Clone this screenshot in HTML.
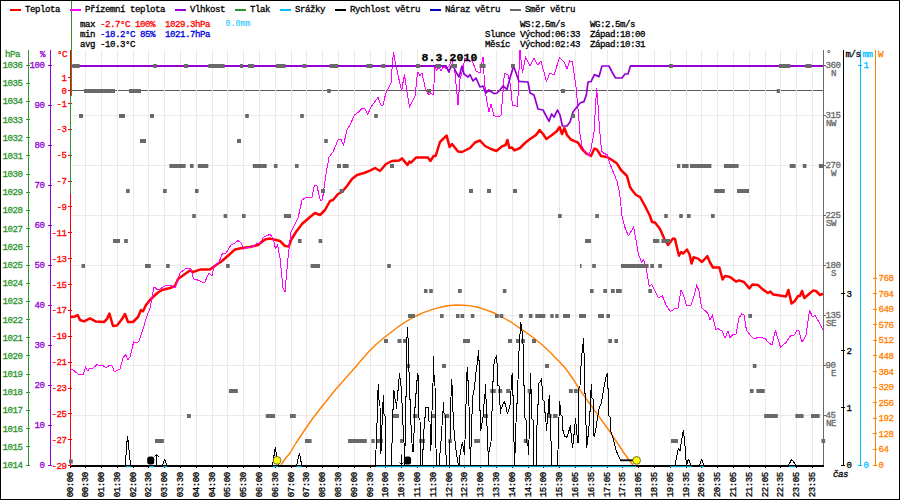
<!DOCTYPE html>
<html><head><meta charset="utf-8"><title>Meteo 8.3.2010</title>
<style>
html,body{margin:0;padding:0;background:#fff;}
svg{display:block;}
text{font-family:"Liberation Mono","DejaVu Sans Mono",monospace;font-size:9.1px;letter-spacing:-0.46px;white-space:pre;stroke-width:0.3px;}
.b{font-weight:bold;}
</style></head><body>
<svg width="900" height="500" viewBox="0 0 900 500">
<rect x="0" y="0" width="900" height="500" fill="#fff"/>
<path d="M71 90.5H823" stroke="#5a5a5a" stroke-width="1"/>
<path d="M85.5 50V465M101.5 50V465M117.5 50V465M133.5 50V465M148.5 50V465M164.5 50V465M180.5 50V465M196.5 50V465M212.5 50V465M227.5 50V465M243.5 50V465M259.5 50V465M275.5 50V465M291.5 50V465M306.5 50V465M322.5 50V465M338.5 50V465M354.5 50V465M370.5 50V465M385.5 50V465M401.5 50V465M417.5 50V465M433.5 50V465M449.5 50V465M464.5 50V465M480.5 50V465M496.5 50V465M512.5 50V465M528.5 50V465M543.5 50V465M559.5 50V465M575.5 50V465M591.5 50V465M607.5 50V465M622.5 50V465M638.5 50V465M654.5 50V465M670.5 50V465M686.5 50V465M701.5 50V465M717.5 50V465M733.5 50V465M749.5 50V465M765.5 50V465M780.5 50V465M796.5 50V465M812.5 50V465" stroke="#ede7e7" stroke-width="1" fill="none"/>
<path d="M71 415.5H823M71 365.5H823M71 315.5H823M71 265.5H823M71 215.5H823M71 165.5H823M71 115.5H823" stroke="#ede7e7" stroke-width="1" fill="none"/>
<path d="M28.5 50V466" stroke="#2c962c"/>
<path d="M50.5 50V466" stroke="#9400d3"/>
<path d="M70.5 50V466" stroke="#ff0000"/>
<path d="M823.5 50V467" stroke="#696969"/>
<path d="M843.5 50V466" stroke="#000000"/>
<path d="M860.5 50V466" stroke="#00bfff"/>
<path d="M875.5 50V466" stroke="#ff7f00"/>
<path d="M71.5 0V96M70.5 96V194" stroke="#2c962c"/>
<path d="M281 465L285 459L290 453L296 443L300 437L306 428L313 418L320 409L328 399L336 389L344 380L352 371L360 361.8L368 352.5L376 344.5L384 337.8L392 331.5L400 325.5L408 320.3L416 316L424 312.3L432 309.6L440 307.3L448 305.8L456 305L463 305.2L469 305.6L477 307L485.3 309.6L493 312.5L501.1 316.5L511.7 322.5L522.3 329.8L532.8 337.3L541.6 344.3L550.4 352.5L559.2 361.5L566 369L572.4 378L580.4 390.6L589.2 403L598 415.2L605 425L609.4 431L614 438L619 445.5L624 453L629 460L633 465" stroke="#ff7f00" stroke-width="1.4" fill="none" stroke-linejoin="round" />
<path d="M70.5 317L75 316.5L77.6 315L80 320L84 321.4L90 318.4L96 321.6L104 322L107 319L109.4 313.6L113 326L117 325.6L122 319L125 314L128 322L133 322L138 317L141 310L143 311.3L146 305L150 300L154 296L158 292.5L162 290L170 288L175 286L178 279L185 274L190 270.4L193 272L200 269.6L210 269.4L216 265L222 261L230 254L235 249.4L242 248L250 247L258 245L265 239.6L270 238.6L276 240L280 241L285 246L289 246.4L291 240L296 232L302 224L310 217L315 213L320 215L325 210L330 201L333 200L338 194L342 192L347 186L352 179L357 175L364 173L370 170.6L375 168L380 171L386 164L392 161L399 160.6L402 158.4L407.4 165L409.4 161.6L411 162.6L416 157.6L428 157.6L430.4 161L433.6 156L435.6 156L440 142L443 139L446.6 135.6L449.6 147L452 144L458 151.6L462 152L470 148L475 142.5L480 140.5L485 146L491 149L496.4 151L502 146.4L505.6 145L507.4 140L509.4 148L512 147.6L514.4 150.4L520 148L525 143L530 139L536 135L539.6 130L543 134L546.4 139L552 135L557 131L559.6 127L562 134L564.4 128L567 135L571 139.6L578 142.6L582 149L587 154L591 156L594.4 148.6L597 149.6L601 156L607 157L612 160L617 163.6L621 170L627 176L630 187L632 190L636 195L640 197L645 206L650 216L652 222L655 222.6L660 229L664 238L668 245L673 238.4L675 239L678 252L679 255.6L681 252L683 253.6L687 249.5L689.6 254.5L691.5 263.6L693.6 257.3L698 258.6L702 262L707.4 256.2L710 262.5L713 267.5L719.4 267.5L722.6 279.5L725 276L730 277L736 281.6L739 280.4L744 282L749.4 288.4L752.4 284.4L758 285L763 289.6L768 293L770.4 291.6L773 294.4L780 295.6L786 296.4L788.4 290L791.6 303.6L794.4 301.6L798 296L800 296L802 291L804.4 298L809 294L813 290.6L816 291L820 295L823 293.6" stroke="#ff0000" stroke-width="2.5" fill="none" stroke-linejoin="round" />
<path d="M70.5 371L72 369L78 374L83 375L85.6 367L87.6 371L90 368L93 368L97 364.6L100 366L103 365.6L106 368L109 365.6L112 365.6L114.4 372L120 369L123 358L125.6 354.4L127.6 360L130 357L133.6 342L137 343L139 341L143 329L147 316L150 308L152 298L154 287L158 290L165 286L170 285L175 288L180 273L186 268.4L191 269L193.6 279L199 280.4L204.4 283L209 273L212 275.6L214 266L219 262L222.4 253.6L225.6 254L231 245L234 243.6L238 240.6L241 243L243.6 249L248 247L251 248L256 244L259.6 243L264 237L270 234.4L273 238L275.6 249L277.6 245L280 258L283 288L285 292L288 258L291 232L298 218L302 200L306 197.5L312 197L314.4 185.6L317 186L320.4 201L322.4 200L326 174L329 157L333 152L338 140L341 139.4L343.5 145L347 130L351 123L354.4 115L358 112.5L362 108.6L365 109L367.6 114.6L371 107L378 97.4L380.6 105L383 105L385.6 94L391 83L392.6 61L393.6 52.5L395 61L398 75L401.6 91L404.4 74.3L407 92L409.5 107.3L415 96L417.6 72L420 75.4L422 73L426 91L429 94.6L431 93L433.4 95L435 65L436.4 71L439 67L441 71L444 66L446 69L449 66L452 59L455 73L458 105L460 79L463 69L465 58L470 62L472 60L476 71L480 73L483 57L484.4 81L486.4 99L489 112L491 104L494 115.5L497 117L501 115.5L502.4 100L504.4 73L508 75L510.4 85L512.4 105L517.6 106.6L519 70L520 50L522.4 73L525.6 57L530 66L534 58L537.6 65L541 61L546.4 81.4L550 73L554 75L559.6 57.4L564 62L567 68.6L569.6 61L572.4 62L576 87L578.2 111L580 134L582 146L585 152L589 155.6L591 149L594 132L595.6 105L596.6 88L598 105L599.6 130L601.6 151L604 153.6L607 154.4L610 164L614 174L617 181L619 190L620.5 200L621.7 215L624.4 226L628.4 236L633.6 227L636 240L638.4 254L641.6 262.4L643.6 259.5L646.4 269.5L649.4 287L651.7 284.4L654.4 289.4L657.8 297L660 297L662.4 296L666 305L670.4 311.6L675 308.4L678 308L681 290L683.6 295.6L686.4 305L691 305L694.4 295L696.6 285L699 291L701.6 307.6L707.6 313L710 320L712.4 315L716 330L717.6 328.4L722 331L725 338L728 331L730 337.4L733 334.6L736 334.4L739 318L741.6 314L744 315L746.4 330L750 335L754 339L759 337L765 338.4L769 343L772 345L775.4 330.4L778 339L780.6 347.4L786 342.4L791 335L793.6 336L797 330.6L799 331L802 342.4L806 335L809.6 310L812.4 317L815 315L820 324L823 329.6" stroke="#ff00ff" stroke-width="1" fill="none" stroke-linejoin="round" shape-rendering="crispEdges"/>
<path d="M71 66L446 66L449 72L451 66L453 65.5L456 72L459 77L462 66L464 74L468 77L470 74.6L473 81L476 78L480 87L483 86L485.6 93L489 90L494 93.6L497 93L500 90L503 86L507 89.4L510 78L513.6 66L516 73L519 81.4L528 82L530 93L534 95L538 109L543 110L549 121.4L551.6 114L554 117L557.6 110L560 115L562.4 126L567 126L570 122L573 112L580 103L584 101.6L586.4 94.6L588 82L591 81.6L594.4 74.6L599 76.6L602 66L609 66L612 72L615.6 78L622 78L625 74L628 74L630.4 66L823 66" stroke="#9400d3" stroke-width="1.7" fill="none" stroke-linejoin="round" />
<path d="M71 66H446.5M630 66H823" stroke="#9400d3" stroke-width="2"/>
<path d="M72.4 64h7.2v4h-7.2zM153.2 64h3.6v4h-3.6zM184 64h4v4h-4zM208.4 64h16.2v4h-16.2zM240 64h3v4h-3zM248 64h6v4h-6zM276 64h9.6v4h-9.6zM302.6 64h3.6v4h-3.6zM329.6 64h8.4v4h-8.4zM366.4 64h6.2v4h-6.2zM381.6 64h3.6v4h-3.6zM416 64h4v4h-4zM435.6 64h5.4v4h-5.4zM451 64h6v4h-6zM479.6 64h6v4h-6zM511 64h4v4h-4zM669 64h3.8v4h-3.8zM779 64h11.3v4h-11.3zM805.6 64h5.8v4h-5.8zM84 89h31v4h-31zM129 89h12v4h-12zM327.2 89h3.6v4h-3.6zM427 89h4v4h-4zM561 89h4v4h-4zM776.7 89h3.2v4h-3.2zM79 114h4v4h-4zM119 114h6v4h-6zM150 114h4v4h-4zM245.2 114h3.6v4h-3.6zM300.2 114h3.6v4h-3.6zM374.2 114h3.6v4h-3.6zM571 114h4v4h-4zM140 139h6v4h-6zM237 139h4v4h-4zM324.2 139h3.6v4h-3.6zM169.4 164h16.2v4h-16.2zM190 164h3.6v4h-3.6zM197.8 164h10.5v4h-10.5zM252.8 164h13.9v4h-13.9zM273.9 164h3.6v4h-3.6zM295 164h3.6v4h-3.6zM337 164h4v4h-4zM342.6 164h6v4h-6zM390 164h4v4h-4zM677 164h3.3v4h-3.3zM682 164h6.6v4h-6.6zM690 164h21.4v4h-21.4zM723.9 164h14.7v4h-14.7zM789.7 164h5.9v4h-5.9zM802.8 164h3.6v4h-3.6zM818.9 164h4.1v4h-4.1zM126.1 189h3.6v4h-3.6zM163 189h3.7v4h-3.7zM195 189h3.6v4h-3.6zM321 189h4v4h-4zM339.6 189h4v4h-4zM469 189h4v4h-4zM487 189h4v4h-4zM513 189h4v4h-4zM714.2 189h10.6v4h-10.6zM737 189h12v4h-12zM192.2 214h3.6v4h-3.6zM223.6 214h3.6v4h-3.6zM242 214h3.6v4h-3.6zM283.9 214h7.1v4h-7.1zM558 214h3.7v4h-3.7zM595.3 214h3.6v4h-3.6zM664.2 214h3.6v4h-3.6zM679.2 214h3.6v4h-3.6zM687 214h3.6v4h-3.6zM711 214h3.7v4h-3.7zM113 239h7v4h-7zM124.2 239h3.6v4h-3.6zM298 239h3.6v4h-3.6zM318.6 239h3.6v4h-3.6zM585 239h6v4h-6zM653 239h6.4v4h-6.4zM661.4 239h8.9v4h-8.9zM81.5 264h3.5v4h-3.5zM145 264h5.8v4h-5.8zM166.1 264h3.6v4h-3.6zM226.1 264h3.6v4h-3.6zM310.6 264h9.4v4h-9.4zM387.2 264h3.6v4h-3.6zM580 264h1.5v4h-1.5zM592.2 264h3.6v4h-3.6zM621 264h27.6v4h-27.6zM650.3 264h3.6v4h-3.6zM658.3 264h3.6v4h-3.6zM423.9 289h3.6v4h-3.6zM429.2 289h3.6v4h-3.6zM458 289h3.7v4h-3.7zM502.8 289h3.6v4h-3.6zM590 289h3.6v4h-3.6zM603.3 289h3.7v4h-3.7zM611 289h3.7v4h-3.7zM616 289h5.7v4h-5.7zM648.3 289h3.7v4h-3.7zM408 314h7v4h-7zM440 314h3.6v4h-3.6zM456 314h3.6v4h-3.6zM460.6 314h3.6v4h-3.6zM470.8 314h3.6v4h-3.6zM495 314h3.6v4h-3.6zM499.7 314h3.6v4h-3.6zM519.2 314h3.6v4h-3.6zM528.9 314h3.6v4h-3.6zM535.3 314h10v4h-10zM550.3 314h3.3v4h-3.3zM555.3 314h3.3v4h-3.3zM563 314h7v4h-7zM579 314h7v4h-7zM598 314h6v4h-6zM606.4 314h3.6v4h-3.6zM748.3 314h3.7v4h-3.7zM384 339h4v4h-4zM397.5 339h4v4h-4zM403 339h4v4h-4zM463 339h7v4h-7zM508 339h4v4h-4zM516 339h4v4h-4zM521 339h4v4h-4zM532 339h4v4h-4zM608.3 339h3.7v4h-3.7zM614.4 339h3.6v4h-3.6zM406 364h4v4h-4zM442 364h4v4h-4zM545 364h4v4h-4zM752.8 364h3.6v4h-3.6zM228.9 389h8.9v4h-8.9zM490.2 389h5.6v4h-5.6zM498.2 389h4v4h-4zM506.2 389h4v4h-4zM527.6 389h4v4h-4zM568.9 389h3.9v4h-3.9zM573.9 389h3.8v4h-3.8zM750 389h3.6v4h-3.6zM756.4 389h8.3v4h-8.3zM187 414h3.8v4h-3.8zM265.8 414h9.2v4h-9.2zM290 414h5.8v4h-5.8zM392.5 414h6.5v4h-6.5zM413 414h4.5v4h-4.5zM431.5 414h4.5v4h-4.5zM444.2 414h5v4h-5zM483.5 414h4.5v4h-4.5zM547.8 414h3.8v4h-3.8zM553 414h4.5v4h-4.5zM764.2 414h13.6v4h-13.6zM795.3 414h8.3v4h-8.3zM811 414h8.7v4h-8.7zM155 439h8.9v4h-8.9zM305 439h6.6v4h-6.6zM348 439h18.8v4h-18.8zM371.3 439h3.4v4h-3.4zM376.6 439h6.2v4h-6.2zM400 439h3.6v4h-3.6zM419.2 439h5.7v4h-5.7zM448.3 439h3.6v4h-3.6zM474.2 439h5.8v4h-5.8zM523.8 439h4v4h-4zM671 439h7v4h-7zM821.5 439h3.7v4h-3.7zM69 459.5h3.8v4h-3.8z" fill="#696969"/>
<path d="M125 465.5L125.8 458.3L126.7 445L127.5 436.2L128.3 441.7L129.2 451.7L130 460L130.8 465.5" stroke="#000000" stroke-width="1" fill="none" stroke-linejoin="round" shape-rendering="crispEdges"/>
<path d="M162.5 465.5L164.7 459.2L166.7 465.5" stroke="#000000" stroke-width="1" fill="none" stroke-linejoin="round" shape-rendering="crispEdges"/>
<path d="M272.2 465.5L273.1 462L273.4 456L274.6 455L274.9 450L275.5 447.2L276.1 452.6L276.7 456.2L278 462L278.5 465.5" stroke="#000000" stroke-width="1" fill="none" stroke-linejoin="round" shape-rendering="crispEdges"/>
<path d="M296.2 465.5L297.4 462.8L298 459.2L298.7 456.2L299.5 453.2L300.1 456.8L300.7 461L301.6 462.8L301.9 465.5" stroke="#000000" stroke-width="1" fill="none" stroke-linejoin="round" shape-rendering="crispEdges"/>
<path d="M375.2 465.5L376.5 440L377 425L377.2 399L378.5 385L379.2 405L380 406L380.4 440L380.9 454L381.5 440L382.2 420L382.5 408L383.5 396L384 414L385 416L385.2 448L385.6 465.5L391.5 465.5L392.3 430L392.5 409L393.5 409L393.5 390L394.5 393L395 399L396 403L396.5 408.5L397 402L397.5 390L398.5 390L399 379L399.5 373.4L400 378L401 386L402 403L402.5 404L403 425L404 442L404.4 465.5L404.8 465.5L405.2 430L405.5 396L406.5 396L406.5 350.5L407.4 327L408.3 342.6L409 371.6L409.5 399L410.5 400L411 425L412.5 452L413 452L414.2 430L414.5 408L415.5 407L415.5 393.5L416.5 393L416.5 381L417.5 380L417.5 373.4L418 375L418 389L418.5 390L419 418L420 420L420.3 445L420.6 465.5L422 465.5L423.3 445L424.5 418L425.5 417.5L425.5 407.5L428.5 407.5L429 421L430 422L430.3 446L430.6 451L431 446L431.5 425L432 411L433 384L433.3 356L434 375L434.5 385L435 386L435.5 430L436.5 465.5L439 465.5L441 441L442 426L442.5 411.5L443.5 411.5L443.5 402L444 413L445 413.5L445.2 436.3L446.5 465.5L449.5 465.5L450 440L450.6 402L451.5 390L451.5 379L452.5 390.6L453.2 420L454.2 432L455.5 446L456.6 455L458.5 465.5L459 465.5L460 455.5L461.5 446L462.5 442.5L463.2 447L464.5 454.5L465 440L465.9 410L466.4 382L467.3 367.2L468.2 384L469.5 420L470 449L470.5 465.5L471 449L471.2 415L472.5 413L473 395L474.5 388L475.6 375L477 365.5L478.6 350.5L479.4 370L479.5 396L479.6 410L480.5 411L480.6 431L481.8 424L483 417L483.5 411L484.5 397L485 394L485.5 385L486 399L486.5 400L487 426L488 451L488.5 465.5L489 452L491 442L491.5 418L492.5 405L492.5 382L493.5 381L494.1 361L496.4 356L497.3 366.3L497.5 385L499 386L499 403L500 405L500 414L500.5 410L502 407L503 404L504.5 402L505.5 405L506.5 409.5L507.5 414L508.5 410L509.5 408L510.5 402L511 391L511.5 380L512.2 373L512.5 378L512.5 395L513.5 396L514 442L514.5 465.5L515.5 442L516.5 404L517.5 403L518 380L518.7 356.7L520.1 332.9L520.8 322.3L522.3 332.9L523.5 352.3L523.5 385L524.5 386L525 418L526 420L526 440L528 446L528.5 455L529.5 425L529.5 394L530.5 393L530.7 373L531 389L531.5 394L532 419L533 420L533.3 457.5L533.9 465.5L536.7 465.5L537 425L537.5 405L538.5 404L538.5 384L540 382L541.5 379L542 386L542.5 387L543 400L544 401L544.5 412L545.5 413L546.5 431L547 425L547.5 413L548.5 413L548.5 402L549.5 396L550 414L550.5 425L551.3 450.4L551.8 465.5L557.5 465.5L558 450.4L558.5 425L559 417L559.5 402L560.5 407L561 415L562 416L562.7 429.3L564.5 436.3L567.1 437.2L568.9 431L570.3 425.8L571.5 438L572.6 447.8L574.2 432.8L575.5 419L576.8 432.8L578 443.4L578.5 425L579 388L580 386L580.5 375L581.2 362.8L582.1 352.3L583.5 339L584.2 357.5L584.5 375L584.5 393L585.5 394L586 425L586.7 447.8L587.7 439.9L589.2 424L589.5 412L590.5 411L590.5 395L591.5 385L592 398L593 399L593 425L594.1 437.2L596.2 427.5L597 421L598 415L598.5 411L599.5 407L601 404L602 399L603 393L604.5 384L605.5 380L606.5 375L607.3 373L607.5 375L607.5 388L608.5 389L609 416L610 417L610.6 431L612.9 438L615.6 448.7L618.2 455.7L620.5 460L633.6 460" stroke="#000000" stroke-width="1" fill="none" stroke-linejoin="round" shape-rendering="crispEdges"/>
<path d="M675 465.5L676.4 458L678.4 448L680 451L681.6 440L683.4 430L685 446L686.4 465.5L688.4 459L691 465.5" stroke="#000000" stroke-width="1" fill="none" stroke-linejoin="round" shape-rendering="crispEdges"/>
<path d="M699.6 465.5L701.6 459.4L704 465.5" stroke="#000000" stroke-width="1" fill="none" stroke-linejoin="round" shape-rendering="crispEdges"/>
<path d="M788.3 465.5L791.7 459.3L796 465.5" stroke="#000000" stroke-width="1" fill="none" stroke-linejoin="round" shape-rendering="crispEdges"/>
<rect x="70" y="465" width="754" height="2" fill="#000"/>
<path d="M70.5 467v1M85.5 467v1M101.5 467v1M117.5 467v1M133.5 467v1M148.5 467v1M164.5 467v1M180.5 467v1M196.5 467v1M212.5 467v1M227.5 467v1M243.5 467v1M259.5 467v1M275.5 467v1M291.5 467v1M306.5 467v1M322.5 467v1M338.5 467v1M354.5 467v1M370.5 467v1M385.5 467v1M401.5 467v1M417.5 467v1M433.5 467v1M449.5 467v1M464.5 467v1M480.5 467v1M496.5 467v1M512.5 467v1M528.5 467v1M543.5 467v1M559.5 467v1M575.5 467v1M591.5 467v1M607.5 467v1M622.5 467v1M638.5 467v1M654.5 467v1M670.5 467v1M686.5 467v1M701.5 467v1M717.5 467v1M733.5 467v1M749.5 467v1M765.5 467v1M780.5 467v1M796.5 467v1M812.5 467v1" stroke="#000" stroke-width="1" fill="none"/>
<rect x="126" y="466.2" width="5" height="1" fill="#00bfff"/>
<rect x="149" y="466.2" width="5" height="1" fill="#00bfff"/>
<rect x="163" y="466.2" width="4" height="1" fill="#00bfff"/>
<rect x="273" y="466.2" width="5" height="1" fill="#00bfff"/>
<rect x="296.5" y="466.2" width="5" height="1" fill="#00bfff"/>
<rect x="376" y="466.2" width="260" height="1" fill="#00bfff"/>
<rect x="670" y="466.2" width="22" height="1" fill="#00bfff"/>
<rect x="700" y="466.2" width="4" height="1" fill="#00bfff"/>
<rect x="789" y="466.2" width="6" height="1" fill="#00bfff"/>
<rect x="620" y="459.4" width="14" height="1.8" fill="#000"/>
<circle cx="277" cy="460.4" r="3.9" fill="#ffff00" stroke="#333" stroke-width="0.7"/>
<circle cx="636.6" cy="460.4" r="3.9" fill="#ffff00" stroke="#333" stroke-width="0.7"/>
<rect x="147.2" y="456.5" width="7" height="8" rx="2.5" fill="#000"/>
<rect x="404.1" y="456.4" width="7" height="8" rx="2.5" fill="#000"/>
<path d="M156.5 454.5V465M154.5 456.5L156.5 454.5L159 457" stroke="#000" stroke-width="1" fill="none"/>
<path d="M401.5 454.5V465M399.5 462.5L401.5 464.5L403.5 462.5" stroke="#000" stroke-width="1" fill="none"/>
<text x="22.6" y="468" fill="#2c962c" stroke="#2c962c" text-anchor="end">1014</text>
<text x="22.6" y="449.818" fill="#2c962c" stroke="#2c962c" text-anchor="end">1015</text>
<text x="22.6" y="431.636" fill="#2c962c" stroke="#2c962c" text-anchor="end">1016</text>
<text x="22.6" y="413.455" fill="#2c962c" stroke="#2c962c" text-anchor="end">1017</text>
<text x="22.6" y="395.273" fill="#2c962c" stroke="#2c962c" text-anchor="end">1018</text>
<text x="22.6" y="377.091" fill="#2c962c" stroke="#2c962c" text-anchor="end">1019</text>
<text x="22.6" y="358.909" fill="#2c962c" stroke="#2c962c" text-anchor="end">1020</text>
<text x="22.6" y="340.727" fill="#2c962c" stroke="#2c962c" text-anchor="end">1021</text>
<text x="22.6" y="322.545" fill="#2c962c" stroke="#2c962c" text-anchor="end">1022</text>
<text x="22.6" y="304.364" fill="#2c962c" stroke="#2c962c" text-anchor="end">1023</text>
<text x="22.6" y="286.182" fill="#2c962c" stroke="#2c962c" text-anchor="end">1024</text>
<text x="22.6" y="268" fill="#2c962c" stroke="#2c962c" text-anchor="end">1025</text>
<text x="22.6" y="249.818" fill="#2c962c" stroke="#2c962c" text-anchor="end">1026</text>
<text x="22.6" y="231.636" fill="#2c962c" stroke="#2c962c" text-anchor="end">1027</text>
<text x="22.6" y="213.455" fill="#2c962c" stroke="#2c962c" text-anchor="end">1028</text>
<text x="22.6" y="195.273" fill="#2c962c" stroke="#2c962c" text-anchor="end">1029</text>
<text x="22.6" y="177.091" fill="#2c962c" stroke="#2c962c" text-anchor="end">1030</text>
<text x="22.6" y="158.909" fill="#2c962c" stroke="#2c962c" text-anchor="end">1031</text>
<text x="22.6" y="140.727" fill="#2c962c" stroke="#2c962c" text-anchor="end">1032</text>
<text x="22.6" y="122.545" fill="#2c962c" stroke="#2c962c" text-anchor="end">1033</text>
<text x="22.6" y="104.364" fill="#2c962c" stroke="#2c962c" text-anchor="end">1034</text>
<text x="22.6" y="86.1818" fill="#2c962c" stroke="#2c962c" text-anchor="end">1035</text>
<text x="22.6" y="68" fill="#2c962c" stroke="#2c962c" text-anchor="end">1036</text>
<path d="M26 465.5h4M26 446.5h4M26 428.5h4M26 410.5h4M26 392.5h4M26 374.5h4M26 355.5h4M26 337.5h4M26 319.5h4M26 301.5h4M26 283.5h4M26 265.5h4M26 246.5h4M26 228.5h4M26 210.5h4M26 192.5h4M26 174.5h4M26 155.5h4M26 137.5h4M26 119.5h4M26 101.5h4M26 83.5h4M26 65.5h4" stroke="#2c962c"/>
<text x="5" y="57" fill="#2c962c" stroke="#2c962c" text-anchor="start">hPa</text>
<text x="44.6" y="468" fill="#9400d3" stroke="#9400d3" text-anchor="end">0</text>
<text x="44.6" y="428" fill="#9400d3" stroke="#9400d3" text-anchor="end">10</text>
<text x="44.6" y="388" fill="#9400d3" stroke="#9400d3" text-anchor="end">20</text>
<text x="44.6" y="348" fill="#9400d3" stroke="#9400d3" text-anchor="end">30</text>
<text x="44.6" y="308" fill="#9400d3" stroke="#9400d3" text-anchor="end">40</text>
<text x="44.6" y="268" fill="#9400d3" stroke="#9400d3" text-anchor="end">50</text>
<text x="44.6" y="228" fill="#9400d3" stroke="#9400d3" text-anchor="end">60</text>
<text x="44.6" y="188" fill="#9400d3" stroke="#9400d3" text-anchor="end">70</text>
<text x="44.6" y="148" fill="#9400d3" stroke="#9400d3" text-anchor="end">80</text>
<text x="44.6" y="108" fill="#9400d3" stroke="#9400d3" text-anchor="end">90</text>
<text x="44.6" y="68" fill="#9400d3" stroke="#9400d3" text-anchor="end">100</text>
<path d="M48 465.5h4M48 425.5h4M48 385.5h4M48 345.5h4M48 305.5h4M48 265.5h4M48 225.5h4M48 185.5h4M48 145.5h4M48 105.5h4M48 65.5h4" stroke="#9400d3"/>
<text x="40" y="57" fill="#9400d3" stroke="#9400d3" text-anchor="start">%</text>
<text x="66.5" y="80.669" fill="#ff0000" stroke="#ff0000" text-anchor="end">1</text>
<text x="66.5" y="93.6" fill="#ff0000" stroke="#ff0000" text-anchor="end">0</text>
<text x="66.5" y="106.531" fill="#ff0000" stroke="#ff0000" text-anchor="end">-1</text>
<text x="66.5" y="132.393" fill="#ff0000" stroke="#ff0000" text-anchor="end">-3</text>
<text x="66.5" y="158.255" fill="#ff0000" stroke="#ff0000" text-anchor="end">-5</text>
<text x="66.5" y="184.117" fill="#ff0000" stroke="#ff0000" text-anchor="end">-7</text>
<text x="66.5" y="209.979" fill="#ff0000" stroke="#ff0000" text-anchor="end">-9</text>
<text x="66.5" y="235.841" fill="#ff0000" stroke="#ff0000" text-anchor="end">-11</text>
<text x="66.5" y="261.703" fill="#ff0000" stroke="#ff0000" text-anchor="end">-13</text>
<text x="66.5" y="287.566" fill="#ff0000" stroke="#ff0000" text-anchor="end">-15</text>
<text x="66.5" y="313.428" fill="#ff0000" stroke="#ff0000" text-anchor="end">-17</text>
<text x="66.5" y="339.29" fill="#ff0000" stroke="#ff0000" text-anchor="end">-19</text>
<text x="66.5" y="365.152" fill="#ff0000" stroke="#ff0000" text-anchor="end">-21</text>
<text x="66.5" y="391.014" fill="#ff0000" stroke="#ff0000" text-anchor="end">-23</text>
<text x="66.5" y="416.876" fill="#ff0000" stroke="#ff0000" text-anchor="end">-25</text>
<text x="66.5" y="442.738" fill="#ff0000" stroke="#ff0000" text-anchor="end">-27</text>
<text x="66.5" y="468.6" fill="#ff0000" stroke="#ff0000" text-anchor="end">-29</text>
<path d="M68 77.5h4M68 90.5h4M68 103.5h4M68 129.5h4M68 155.5h4M68 181.5h4M68 206.5h4M68 232.5h4M68 258.5h4M68 284.5h4M68 310.5h4M68 336.5h4M68 362.5h4M68 388.5h4M68 413.5h4M68 439.5h4M68 465.5h4" stroke="#ff0000"/>
<text x="57" y="57" fill="#ff0000" stroke="#ff0000" text-anchor="start">°C</text>
<path d="M71.5 0V96M70.5 96V194" stroke="#2c962c"/>
<text x="825.5" y="418" fill="#696969" stroke="#696969" text-anchor="start">45</text>
<text x="836" y="426.3" fill="#696969" stroke="#696969" text-anchor="end">NE</text>
<text x="825.5" y="368" fill="#696969" stroke="#696969" text-anchor="start">90</text>
<text x="836" y="376.3" fill="#696969" stroke="#696969" text-anchor="end">E</text>
<text x="825.5" y="318" fill="#696969" stroke="#696969" text-anchor="start">135</text>
<text x="836" y="326.3" fill="#696969" stroke="#696969" text-anchor="end">SE</text>
<text x="825.5" y="268" fill="#696969" stroke="#696969" text-anchor="start">180</text>
<text x="836" y="276.3" fill="#696969" stroke="#696969" text-anchor="end">S</text>
<text x="825.5" y="218" fill="#696969" stroke="#696969" text-anchor="start">225</text>
<text x="836" y="226.3" fill="#696969" stroke="#696969" text-anchor="end">SW</text>
<text x="825.5" y="168" fill="#696969" stroke="#696969" text-anchor="start">270</text>
<text x="836" y="176.3" fill="#696969" stroke="#696969" text-anchor="end">W</text>
<text x="825.5" y="118" fill="#696969" stroke="#696969" text-anchor="start">315</text>
<text x="836" y="126.3" fill="#696969" stroke="#696969" text-anchor="end">NW</text>
<text x="825.5" y="68" fill="#696969" stroke="#696969" text-anchor="start">360</text>
<text x="836" y="76.3" fill="#696969" stroke="#696969" text-anchor="end">N</text>
<path d="M824 415.5h2M824 365.5h2M824 315.5h2M824 265.5h2M824 215.5h2M824 165.5h2M824 115.5h2M824 65.5h2" stroke="#696969"/>
<text x="826" y="56" fill="#696969" stroke="#696969" text-anchor="start">°</text>
<text x="846.5" y="468" fill="#000000" stroke="#000000" text-anchor="start">0</text>
<text x="846.5" y="410.857" fill="#000000" stroke="#000000" text-anchor="start">1</text>
<text x="846.5" y="353.714" fill="#000000" stroke="#000000" text-anchor="start">2</text>
<text x="846.5" y="296.571" fill="#000000" stroke="#000000" text-anchor="start">3</text>
<path d="M841 465.5h4M841 407.5h4M841 350.5h4M841 293.5h4" stroke="#000000"/>
<text x="845.5" y="57" fill="#000000" stroke="#000000" text-anchor="start">m/s</text>
<path d="M858 65.5h4M858 465.5h4" stroke="#00bfff"/>
<text x="863.5" y="68" fill="#00bfff" stroke="#00bfff" text-anchor="start">1</text>
<text x="863.5" y="467.7" fill="#00bfff" stroke="#00bfff" text-anchor="start">0</text>
<text x="862.5" y="57" fill="#00bfff" stroke="#00bfff" text-anchor="start">mm</text>
<text x="878.5" y="468" fill="#ff7f00" stroke="#ff7f00" text-anchor="start">0</text>
<text x="878.5" y="452.42" fill="#ff7f00" stroke="#ff7f00" text-anchor="start">64</text>
<text x="878.5" y="436.84" fill="#ff7f00" stroke="#ff7f00" text-anchor="start">128</text>
<text x="878.5" y="421.26" fill="#ff7f00" stroke="#ff7f00" text-anchor="start">192</text>
<text x="878.5" y="405.68" fill="#ff7f00" stroke="#ff7f00" text-anchor="start">256</text>
<text x="878.5" y="390.1" fill="#ff7f00" stroke="#ff7f00" text-anchor="start">320</text>
<text x="878.5" y="374.52" fill="#ff7f00" stroke="#ff7f00" text-anchor="start">384</text>
<text x="878.5" y="358.94" fill="#ff7f00" stroke="#ff7f00" text-anchor="start">448</text>
<text x="878.5" y="343.36" fill="#ff7f00" stroke="#ff7f00" text-anchor="start">512</text>
<text x="878.5" y="327.78" fill="#ff7f00" stroke="#ff7f00" text-anchor="start">576</text>
<text x="878.5" y="312.2" fill="#ff7f00" stroke="#ff7f00" text-anchor="start">640</text>
<text x="878.5" y="296.62" fill="#ff7f00" stroke="#ff7f00" text-anchor="start">704</text>
<text x="878.5" y="281.04" fill="#ff7f00" stroke="#ff7f00" text-anchor="start">768</text>
<path d="M873 465.5h4M873 449.5h4M873 433.5h4M873 418.5h4M873 402.5h4M873 387.5h4M873 371.5h4M873 355.5h4M873 340.5h4M873 324.5h4M873 309.5h4M873 293.5h4M873 278.5h4" stroke="#ff7f00"/>
<text x="878" y="57" fill="#ff7f00" stroke="#ff7f00" text-anchor="start">W</text>
<text transform="translate(73.10 497.2) rotate(-90)" fill="#000" stroke="#000" stroke-width="0.45">00:00</text>
<text transform="translate(88.10 497.2) rotate(-90)" fill="#000" stroke="#000" stroke-width="0.45">00:30</text>
<text transform="translate(104.10 497.2) rotate(-90)" fill="#000" stroke="#000" stroke-width="0.45">01:00</text>
<text transform="translate(120.10 497.2) rotate(-90)" fill="#000" stroke="#000" stroke-width="0.45">01:30</text>
<text transform="translate(136.10 497.2) rotate(-90)" fill="#000" stroke="#000" stroke-width="0.45">02:00</text>
<text transform="translate(151.10 497.2) rotate(-90)" fill="#000" stroke="#000" stroke-width="0.45">02:30</text>
<text transform="translate(167.10 497.2) rotate(-90)" fill="#000" stroke="#000" stroke-width="0.45">03:00</text>
<text transform="translate(183.10 497.2) rotate(-90)" fill="#000" stroke="#000" stroke-width="0.45">03:30</text>
<text transform="translate(199.10 497.2) rotate(-90)" fill="#000" stroke="#000" stroke-width="0.45">04:00</text>
<text transform="translate(215.10 497.2) rotate(-90)" fill="#000" stroke="#000" stroke-width="0.45">04:30</text>
<text transform="translate(230.10 497.2) rotate(-90)" fill="#000" stroke="#000" stroke-width="0.45">05:00</text>
<text transform="translate(246.10 497.2) rotate(-90)" fill="#000" stroke="#000" stroke-width="0.45">05:30</text>
<text transform="translate(262.10 497.2) rotate(-90)" fill="#000" stroke="#000" stroke-width="0.45">06:00</text>
<text transform="translate(278.10 497.2) rotate(-90)" fill="#000" stroke="#000" stroke-width="0.45">06:30</text>
<text transform="translate(294.10 497.2) rotate(-90)" fill="#000" stroke="#000" stroke-width="0.45">07:00</text>
<text transform="translate(309.10 497.2) rotate(-90)" fill="#000" stroke="#000" stroke-width="0.45">07:30</text>
<text transform="translate(325.10 497.2) rotate(-90)" fill="#000" stroke="#000" stroke-width="0.45">08:00</text>
<text transform="translate(341.10 497.2) rotate(-90)" fill="#000" stroke="#000" stroke-width="0.45">08:30</text>
<text transform="translate(357.10 497.2) rotate(-90)" fill="#000" stroke="#000" stroke-width="0.45">09:00</text>
<text transform="translate(373.10 497.2) rotate(-90)" fill="#000" stroke="#000" stroke-width="0.45">09:30</text>
<text transform="translate(388.10 497.2) rotate(-90)" fill="#000" stroke="#000" stroke-width="0.45">10:00</text>
<text transform="translate(404.10 497.2) rotate(-90)" fill="#000" stroke="#000" stroke-width="0.45">10:30</text>
<text transform="translate(420.10 497.2) rotate(-90)" fill="#000" stroke="#000" stroke-width="0.45">11:00</text>
<text transform="translate(436.10 497.2) rotate(-90)" fill="#000" stroke="#000" stroke-width="0.45">11:30</text>
<text transform="translate(452.10 497.2) rotate(-90)" fill="#000" stroke="#000" stroke-width="0.45">12:00</text>
<text transform="translate(467.10 497.2) rotate(-90)" fill="#000" stroke="#000" stroke-width="0.45">12:30</text>
<text transform="translate(483.10 497.2) rotate(-90)" fill="#000" stroke="#000" stroke-width="0.45">13:00</text>
<text transform="translate(499.10 497.2) rotate(-90)" fill="#000" stroke="#000" stroke-width="0.45">13:30</text>
<text transform="translate(515.10 497.2) rotate(-90)" fill="#000" stroke="#000" stroke-width="0.45">14:00</text>
<text transform="translate(531.10 497.2) rotate(-90)" fill="#000" stroke="#000" stroke-width="0.45">14:30</text>
<text transform="translate(546.10 497.2) rotate(-90)" fill="#000" stroke="#000" stroke-width="0.45">15:00</text>
<text transform="translate(562.10 497.2) rotate(-90)" fill="#000" stroke="#000" stroke-width="0.45">15:30</text>
<text transform="translate(578.10 497.2) rotate(-90)" fill="#000" stroke="#000" stroke-width="0.45">16:05</text>
<text transform="translate(594.10 497.2) rotate(-90)" fill="#000" stroke="#000" stroke-width="0.45">16:35</text>
<text transform="translate(610.10 497.2) rotate(-90)" fill="#000" stroke="#000" stroke-width="0.45">17:05</text>
<text transform="translate(625.10 497.2) rotate(-90)" fill="#000" stroke="#000" stroke-width="0.45">17:35</text>
<text transform="translate(641.10 497.2) rotate(-90)" fill="#000" stroke="#000" stroke-width="0.45">18:05</text>
<text transform="translate(657.10 497.2) rotate(-90)" fill="#000" stroke="#000" stroke-width="0.45">18:35</text>
<text transform="translate(673.10 497.2) rotate(-90)" fill="#000" stroke="#000" stroke-width="0.45">19:05</text>
<text transform="translate(689.10 497.2) rotate(-90)" fill="#000" stroke="#000" stroke-width="0.45">19:35</text>
<text transform="translate(704.10 497.2) rotate(-90)" fill="#000" stroke="#000" stroke-width="0.45">20:05</text>
<text transform="translate(720.10 497.2) rotate(-90)" fill="#000" stroke="#000" stroke-width="0.45">20:35</text>
<text transform="translate(736.10 497.2) rotate(-90)" fill="#000" stroke="#000" stroke-width="0.45">21:05</text>
<text transform="translate(752.10 497.2) rotate(-90)" fill="#000" stroke="#000" stroke-width="0.45">21:35</text>
<text transform="translate(768.10 497.2) rotate(-90)" fill="#000" stroke="#000" stroke-width="0.45">22:05</text>
<text transform="translate(783.10 497.2) rotate(-90)" fill="#000" stroke="#000" stroke-width="0.45">22:35</text>
<text transform="translate(799.10 497.2) rotate(-90)" fill="#000" stroke="#000" stroke-width="0.45">23:05</text>
<text transform="translate(815.10 497.2) rotate(-90)" fill="#000" stroke="#000" stroke-width="0.45">23:35</text>
<text x="833" y="477" fill="#000000" stroke="#000000" text-anchor="start" font-style="italic">čas</text>
<rect x="10" y="9" width="11" height="2" fill="#ff0000"/>
<text x="25" y="12" fill="#000000" stroke="#000000" text-anchor="start">Teplota</text>
<rect x="70" y="9" width="11" height="2" fill="#ff00ff"/>
<text x="85" y="12" fill="#000000" stroke="#000000" text-anchor="start">Přízemní teplota</text>
<rect x="175" y="9" width="11" height="2" fill="#9400d3"/>
<text x="190" y="12" fill="#000000" stroke="#000000" text-anchor="start">Vlhkost</text>
<rect x="235" y="9" width="11" height="2" fill="#2c962c"/>
<text x="250" y="12" fill="#000000" stroke="#000000" text-anchor="start">Tlak</text>
<rect x="280" y="9" width="11" height="2" fill="#00bfff"/>
<text x="295" y="12" fill="#000000" stroke="#000000" text-anchor="start">Srážky</text>
<rect x="335" y="9" width="11" height="2" fill="#000000"/>
<text x="350" y="12" fill="#000000" stroke="#000000" text-anchor="start">Rychlost větru</text>
<rect x="430" y="9" width="11" height="2" fill="#0000cd"/>
<text x="445" y="12" fill="#000000" stroke="#000000" text-anchor="start">Náraz větru</text>
<rect x="510" y="9" width="11" height="2" fill="#696969"/>
<text x="525" y="12" fill="#000000" stroke="#000000" text-anchor="start">Směr větru</text>
<text x="80" y="26.6" fill="#000000" stroke="#000000" text-anchor="start">max</text>
<text x="100" y="26.6" fill="#ff0000" stroke="#ff0000" text-anchor="start">-2.7°C 100%  1029.3hPa</text>
<text x="225.5" y="26.4" fill="#00bfff" stroke="#00bfff" text-anchor="start" style="font-size:8.3px;letter-spacing:0;stroke-width:0">0.0mm</text>
<text x="80" y="36.6" fill="#000000" stroke="#000000" text-anchor="start">min</text>
<text x="100" y="36.6" fill="#0000dd" stroke="#0000dd" text-anchor="start">-18.2°C 85%  1021.7hPa</text>
<text x="80" y="46.6" fill="#000000" stroke="#000000" text-anchor="start">avg -10.3°C</text>
<text x="520" y="26.6" fill="#000000" stroke="#000000" text-anchor="start">WS:2.5m/s</text>
<text x="590" y="26.6" fill="#000000" stroke="#000000" text-anchor="start">WG:2.5m/s</text>
<text x="485" y="36.6" fill="#000000" stroke="#000000" text-anchor="start">Slunce Východ:06:33</text>
<text x="590" y="36.6" fill="#000000" stroke="#000000" text-anchor="start">Západ:18:00</text>
<text x="485" y="46.6" fill="#000000" stroke="#000000" text-anchor="start">Měsíc  Východ:02:43</text>
<text x="590" y="46.6" fill="#000000" stroke="#000000" text-anchor="start">Západ:10:31</text>
<text x="421.5" y="61" fill="#000" style="font-size:11.5px;font-weight:bold;letter-spacing:0.1px" stroke="#000" stroke-width="0.5">8.3.2010</text>
<path d="M0.5 0V500M0 0.5H900M899.5 0V500M0 499.5H900" stroke="#000" stroke-width="1" fill="none"/>
</svg>
</body></html>
